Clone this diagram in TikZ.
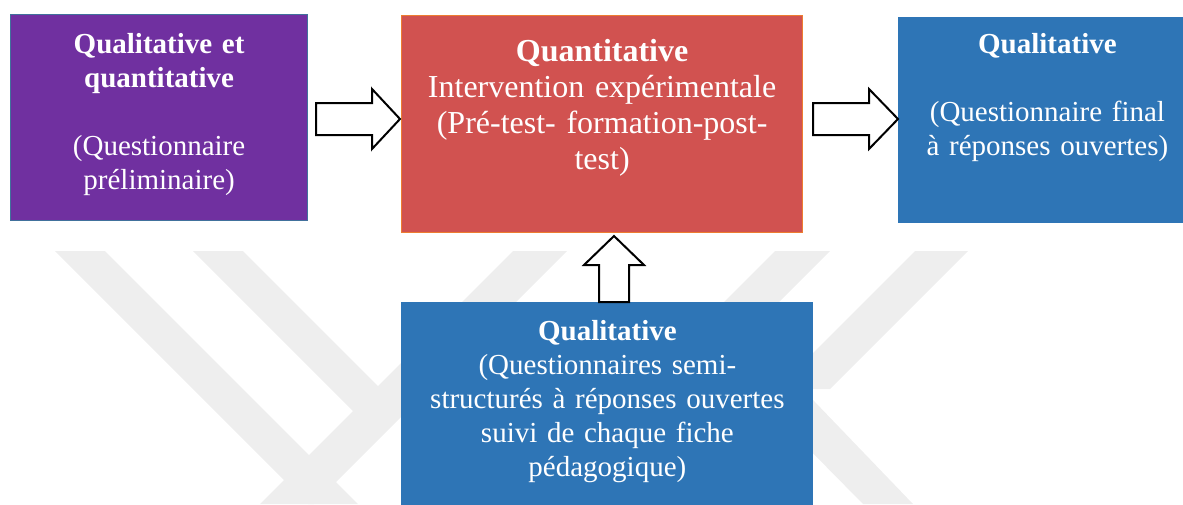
\documentclass[tikz,border=0pt]{standalone}
\usepackage{fontspec}
\setmainfont{Liberation Serif}
\definecolor{violetbox}{RGB}{112,48,160}
\definecolor{rougebox}{RGB}{209,82,80}
\definecolor{bleubox}{RGB}{46,117,182}
\definecolor{bordviolet}{RGB}{65,113,156}
\definecolor{bordrouge}{RGB}{237,125,49}
\definecolor{fond}{RGB}{238,238,238}
\tikzset{
  boite/.style={rectangle,inner sep=0pt,anchor=north west,
    align=center,text=white},
  petit/.style={font=\fontsize{14.5}{17}\selectfont},
  grand/.style={font=\fontsize{16}{18}\selectfont},
  fleche/.style={draw=black,fill=white,line width=1pt,miter limit=10},
  bande/.style={fill=fond}
}

\begin{document}
\begin{tikzpicture}[x=0.5pt,y=-0.5pt]
  \useasboundingbox (0,0) rectangle (1183,504);

  % light logo bands in the background
  \fill[bande] (55,251) -- (105,251) -- (358,504) -- (308,504) -- cycle;
  \fill[bande] (193,251) -- (243,251) -- (395,403) -- (365,423) -- cycle;
  \fill[bande] (513,251) -- (567,251) -- (314,504) -- (260,504) -- cycle;
  \fill[bande] (775,251) -- (830,251) -- (577,504) -- (522,504) -- cycle;
  \fill[bande] (915,251) -- (968,251) -- (830,389) -- (777,389) -- cycle;
  \fill[bande] (790,376) -- (913,504) -- (863,504) -- (790,430) -- cycle;

  % the four steps
  \node[boite,petit,fill=violetbox,draw=bordviolet,line width=0.6pt,
        text width=148.5pt,text height=19.5pt,text depth=83.5pt]
    (prelim) at (10,14)
    {\textbf{Qualitative et}\\\textbf{quantitative}\\[17pt](Questionnaire\\préliminaire)};
  \node[boite,grand,fill=rougebox,draw=bordrouge,line width=0.6pt,
        text width=200.5pt,text height=23pt,text depth=85.3pt]
    (interv) at (401,15)
    {\textbf{Quantitative}\\Intervention expérimentale\\(Pré-test- formation-post-\hspace*{10pt}\\test)};
  \node[boite,petit,fill=bleubox,
        text width=149pt,text height=18pt,text depth=85pt]
    (final) at (898,17)
    {\textbf{Qualitative}\\[17pt](Questionnaire final\\à réponses ouvertes)};
  \node[boite,petit,fill=bleubox,
        text width=206pt,text height=19pt,text depth=85pt]
    (semi) at (401,302)
    {\textbf{Qualitative}\\(Questionnaires semi-\\structurés à réponses ouvertes\\suivi de chaque fiche\\pédagogique)};

  % block arrows
  \coordinate (t1) at (400,119);
  \coordinate (t2) at (898,119);
  \coordinate (t3) at (614,236);
  \draw[fleche] (t1) -- ++(-28,30) -- ++(0,-14) -- ++(-56,0)
    -- ++(0,-32) -- ++(56,0) -- ++(0,-14) -- cycle;
  \draw[fleche] (t2) -- ++(-29,30) -- ++(0,-14) -- ++(-56,0)
    -- ++(0,-32) -- ++(56,0) -- ++(0,-14) -- cycle;
  \draw[fleche] (t3) -- ++(30,29) -- ++(-15,0) -- ++(0,37)
    -- ++(-30,0) -- ++(0,-37) -- ++(-15,0) -- cycle;
\end{tikzpicture}
\end{document}
